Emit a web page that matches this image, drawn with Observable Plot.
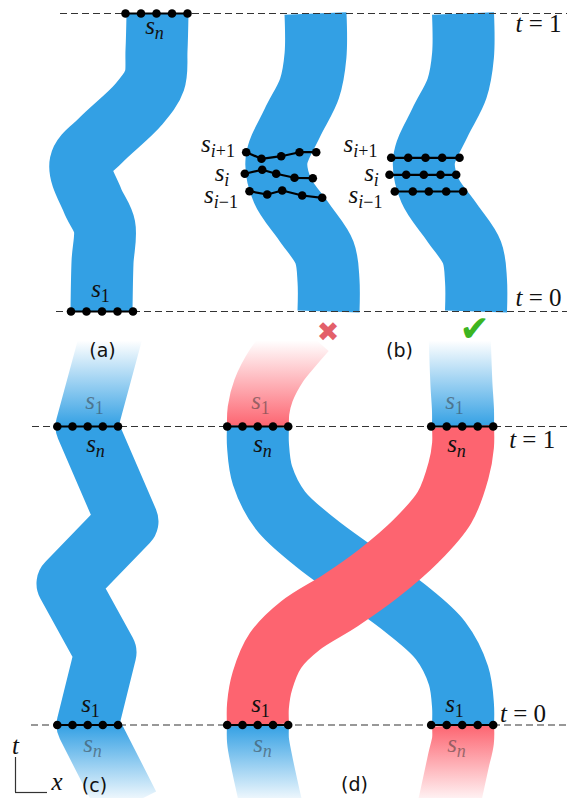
<!DOCTYPE html>
<html><head><meta charset="utf-8">
<script src="https://cdn.jsdelivr.net/npm/d3@7"></script>
<script src="https://cdn.jsdelivr.net/npm/@observablehq/plot@0.6"></script>
<style>body{margin:0;background:#fff} svg text{white-space:pre}</style>
</head><body><div id="chart"></div>
<script>
const W = 567, H = 798;
const BLUE = "#33a0e4", RED = "#fd6470", GREEN = "#3cb521", CROSS = "#e3606a";

// band centrelines [x, y]
const bandA = [[157,13],[156,50],[154,80],[138,104],[100,140],[80,163],[92,200],[104,226],[102,262],[101,311]];
const bandB = [[315,13],[315,55],[309,88],[292,122],[276,160],[282,190],[304,222],[324,252],[328,280],[328,311]];
const bandBShift = 147.5;
const bandC = [[112,330],[86,426],[127,521],[67,583],[105,652],[87,724.5],[128,805]];
const bandDBlue = [[257.5,426],[257.5,445],[262,475],[280,510],[315,542],[360,575],[405,608],[440,640],[458,675],[462.5,705],[462.5,724.5]];
const bandDRed = [[462.5,426],[462.5,445],[458,470],[444,507],[416,540],[378,573],[340,600],[300,625],[275,650],[262,680],[257.5,705],[257.5,724.5]];
const stubRedTop = [[257.5,426],[258,410],[263,390],[276,365],[292,345],[305,330]];
const stubBlueTop = [[462.5,426],[462.5,410],[461,385],[460,360],[459,330]];
const stubBlueBottom = [[257.5,724.5],[257.5,740],[261,760],[269,797],[272,810]];
const stubRedBottom = [[462.5,724.5],[462.5,740],[458,760],[450,797],[447,810]];

// fades: [y, opacity]
const fadeUp = [[340,0],[426,1]];
const fadeDown = [[724.5,1],[805,0]];
const fadeBoth = [[340,0],[426,1],[724.5,1],[805,0]];

// time lines t=1 / t=0
const tLineY = [13, 311, 426, 724.5];
const tLineStart = [60, 56, 32, 31];

// sample rows (x, y)
const rowATop = [[125,13],[140.5,13],[156,13],[171.5,13],[187,13]];
const rowABottom = [[70.5,311],[86,311],[101.5,311],[117,311],[132.5,311]];
const rowBMidUp = [[245.7,151.7],[261,158.3],[280.7,155.7],[299,151.7],[315.7,151.7]];
const rowBMid = [[244.3,173.3],[261.7,169.3],[275.7,173.3],[294,177.3],[312.3,177.7]];
const rowBMidDown = [[249,190.7],[266.7,194],[281.7,190],[301.7,195],[321.7,197.3]];
const rowBRightUp = [[390.7,157.3],[407.7,157.3],[425,157.3],[441.7,157.3],[459,157.3]];
const rowBRight = [[389,174.3],[405.7,174.3],[423.3,174.3],[440,174.3],[455.7,174.3]];
const rowBRightDown = [[394.3,191],[412.3,191],[428.3,191],[445.7,191],[462.7,191]];
const xsC = [56.8,72,87.2,102.3,117.5];
const xsDLeft = [226.7,242,257.2,272.5,287.7];
const xsDRight = [430.7,446.2,461.7,477.2,492.7];

// labels
const darkLabels = [
  [154,25.5,"s_n"],[100,288,"s_1"],
  [217.5,143,"s_{i+1}"],[221.5,172,"s_i"],[220.5,194,"s_{i−1}"],
  [360,143,"s_{i+1}"],[371,172,"s_i"],[365,194,"s_{i−1}"],
  [95,443,"s_n"],[262,443,"s_n"],[456,443,"s_n"],
  [90,703,"s_1"],[260,703,"s_1"],[454,703,"s_1"],
  [538,23,"t = 1"],[538,297,"t = 0"],[531.7,439,"t = 1"],[522.6,713,"t = 0"],
  [15,745,"t"],[56.5,781,"x"]
];
const fadedLabels = [[94,400,"s_1"],[260,400,"s_1"],[454,400,"s_1"],[92,743,"s_n"],[262,743,"s_n"],[456,743,"s_n"]];
const panelLabels = [[102,350,"(a)"],[399,350,"(b)"],[94,785,"(c)"],[354,784,"(d)"]];
const verdicts = [[327.5,332,"✖","bad"],[474,329,"✔","good"]];
const axisCorner = [15, 792];
const axisTop = 757, axisRight = 47;

// ---- build tables ----
const rows = [];
const pushRow = (name, pts) => pts.forEach(([x,y]) => rows.push({row:name, x, y}));
pushRow("aT", rowATop); pushRow("aB", rowABottom);
pushRow("b1", rowBMidUp); pushRow("b2", rowBMid); pushRow("b3", rowBMidDown);
pushRow("r1", rowBRightUp); pushRow("r2", rowBRight); pushRow("r3", rowBRightDown);
[[xsC,"c"],[xsDLeft,"dl"],[xsDRight,"dr"]].forEach(([xs,n]) => {
  pushRow(n+"1", xs.map(x => [x, tLineY[2]]));
  pushRow(n+"0", xs.map(x => [x, tLineY[3]]));
});
const tLines = tLineY.map((y,i) => ({y, x1: tLineStart[i], x2: W}));
const lab = a => a.map(([x,y,text]) => ({x,y,text}));

const gradients = [
  {id:"gBlueUp", color:BLUE, stops:fadeUp},
  {id:"gRedUp", color:RED, stops:fadeUp},
  {id:"gBlueDown", color:BLUE, stops:fadeDown},
  {id:"gRedDown", color:RED, stops:fadeDown},
  {id:"gBlueC", color:BLUE, stops:fadeBoth}
];
function defsMark(index, scales) {
  const defs = d3.create("svg:defs");
  for (const g of gradients) {
    const ys = g.stops.map(s => s[0]);
    const y0 = d3.min(ys), y1 = d3.max(ys);
    const lg = defs.append("linearGradient").attr("id", g.id)
      .attr("gradientUnits","userSpaceOnUse")
      .attr("x1",0).attr("x2",0).attr("y1",scales.y(y0)).attr("y2",scales.y(y1));
    for (const [y,o] of g.stops) {
      lg.append("stop").attr("offset",(y-y0)/(y1-y0)).attr("stop-color",g.color).attr("stop-opacity",o);
    }
  }
  return defs.node();
}

const band = (data, stroke, curve, dx = 0) => Plot.line(data, {
  x: d => d[0] + dx, y: d => d[1], stroke, strokeWidth: 62,
  strokeLinecap: "butt", strokeLinejoin: "round", curve
});

const MATH = "Liberation Serif";
const MATH_STACK = "'Liberation Serif', 'DejaVu Serif', 'Times New Roman', serif";
const MAIN_PX = 25, SUB_PX = 18;
const svg = Plot.plot({
  width: W, height: H, margin: 0,
  x: {domain:[0,W], range:[0,W], axis:null},
  y: {domain:[0,H], range:[0,H], axis:null},
  style: {background:"white"},
  marks: [
    defsMark,
    band(bandA, BLUE, "catmull-rom"),
    band(bandB, BLUE, "catmull-rom"),
    band(bandB, BLUE, "catmull-rom", bandBShift),
    band(bandC, "url(#gBlueC)", "linear"),
    band(stubRedTop, "url(#gRedUp)", "catmull-rom"),
    band(stubBlueTop, "url(#gBlueUp)", "catmull-rom"),
    band(stubBlueBottom, "url(#gBlueDown)", "catmull-rom"),
    band(stubRedBottom, "url(#gRedDown)", "catmull-rom"),
    band(bandDBlue, BLUE, "catmull-rom"),
    band(bandDRed, RED, "catmull-rom"),
    Plot.ruleY(tLines, {y:"y", x1:"x1", x2:"x2", stroke:"#333", strokeWidth:1.1, strokeDasharray:"7,4"}),
    Plot.line(rows, {x:"x", y:"y", z:"row", stroke:"black", strokeWidth:2.2, curve:"linear"}),
    Plot.dot(rows, {x:"x", y:"y", r:4.3, fill:"black"}),
    Plot.text(lab(darkLabels), {x:"x", y:"y", text:"text", fontFamily:MATH, fontSize:MAIN_PX, fill:"#111"}),
    Plot.text(lab(fadedLabels), {x:"x", y:"y", text:"text", fontFamily:MATH, fontSize:MAIN_PX, fill:"#333", fillOpacity:0.5}),
    Plot.text(lab(panelLabels), {x:"x", y:"y", text:"text", fontFamily:"DejaVu Sans", fontSize:19, fill:"#111"}),
    Plot.text(verdicts, {x:d=>d[0], y:d=>d[1], text:d=>d[2], fill:d=>d[3]==="bad"?CROSS:GREEN, fontFamily:"DejaVu Sans", fontSize:d=>d[3]==="bad"?27:36}),
    Plot.ruleX([axisCorner[0]], {y1:axisTop, y2:axisCorner[1], stroke:"#333", strokeWidth:1.2}),
    Plot.ruleY([axisCorner[1]], {x1:axisCorner[0], x2:axisRight, stroke:"#333", strokeWidth:1.2})
  ]
});

// typeset math labels: letters italic, symbols upright, "_" subscript
function runs(str) {
  const out = [];
  for (const ch of str) {
    const it = /[a-z]/i.test(ch);
    const last = out[out.length-1];
    if (last && last.it === it) last.s += ch; else out.push({s:ch, it});
  }
  return out;
}
svg.querySelectorAll(`g[font-family="${MATH}"] text`).forEach(el => {
  const src = el.textContent;
  const [base, subRaw] = src.split("_");
  const sub = subRaw ? subRaw.replace(/[{}]/g,"") : null;
  const t = d3.select(el); t.text(null).style("font-family", MATH_STACK).style("font-size", MAIN_PX + "px");
  for (const r of runs(base)) t.append("tspan").style("font-style", r.it ? "italic" : "normal").text(r.s);
  if (sub) {
    runs(sub).forEach((r,i) => {
      const sp = t.append("tspan").style("font-size", SUB_PX + "px").style("font-style", r.it ? "italic" : "normal").text(r.s);
      if (i === 0) sp.attr("dy", 5);
    });
  }
});
document.getElementById("chart").append(svg);
</script></body></html>
